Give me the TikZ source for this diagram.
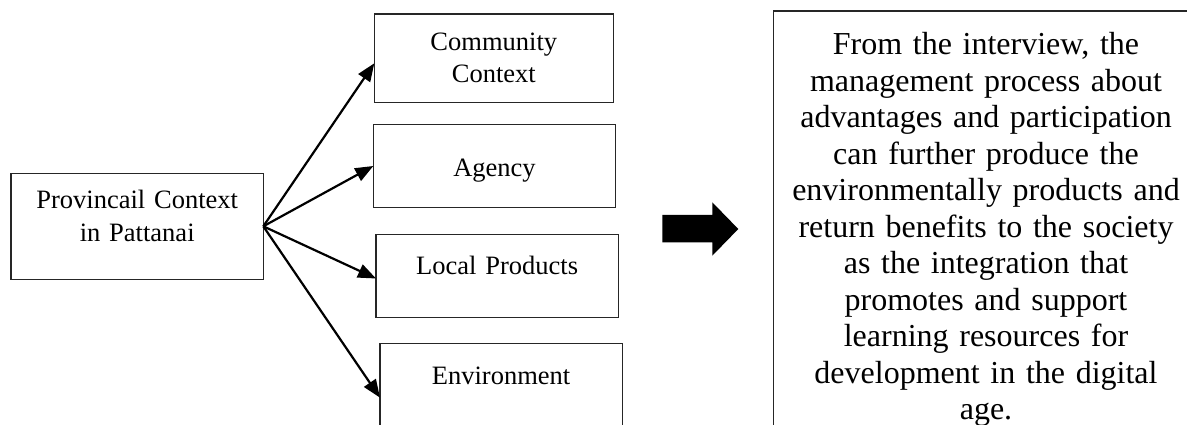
\documentclass[tikz,border=0pt]{standalone}
\usepackage{fontspec}
\setmainfont{Liberation Serif}
\usetikzlibrary{arrows.meta,calc}
\begin{document}
\begin{tikzpicture}[x=1pt,y=-1pt,
  box/.style={draw=black!85,line width=1.3pt,rectangle,inner sep=0pt,outer sep=0pt},
  lbl/.style={anchor=base,inner sep=0pt,text width=250pt,align=center,
    font=\fontsize{26.5}{32.6}\selectfont},
  conn/.style={line width=2.2pt,-{Triangle[length=18pt,width=14pt]}}]
\useasboundingbox (0,0) rectangle (1187,425);
% boxes
\node[box,minimum width=252.3pt,minimum height=106pt] (prov) at (137.15,226.3) {};
\node[box,minimum width=239pt,minimum height=88.3pt] (comm) at (493.8,58.15) {};
\node[box,minimum width=242.4pt,minimum height=83.4pt] (agen) at (494.5,166) {};
\node[box,minimum width=242.5pt,minimum height=83.4pt] (locp) at (497.25,276) {};
\node[box,minimum width=242.7pt,minimum height=83.4pt] (envi) at (501.35,385) {};
% labels
\node[lbl] (provt) at (137.2,208.5) {Provincail Context\\in Pattanai};
\node[lbl] (commt) at (493.8,50.2) {Community\\Context};
\node[lbl] (agent) at (494.5,176.4) {Agency};
\node[lbl] (locpt) at (497.2,274.4) {Local Products};
\node[lbl] (envit) at (501.1,384.3) {Environment};
% connectors
\draw[conn] (prov.east) -- ($(comm.north west)!0.558!(comm.south west)$);
\draw[conn] (prov.east) -- (agen.west);
\draw[conn] (prov.east) -- ($(locp.north west)!0.53!(locp.south west)$);
\draw[conn] (prov.east) -- ($(envi.north west)!0.652!(envi.south west)$);
% big arrow
\fill[black] (662.3,215) -- (712.3,215) -- (712.3,202.3) -- (738.3,229)
  -- (712.3,255.7) -- (712.3,242.3) -- (662.3,242.3) -- cycle;
% right box (cut off at right and bottom)
\coordinate (rbl) at (773.7,430);
\coordinate (rtl) at (773.7,11);
\coordinate (rtr) at (1192,11);
\draw[black!85,line width=1.3pt] (rbl) -- (rtl) -- (rtr);
\node[anchor=base,inner sep=0pt,text width=400pt,align=center,
  font=\fontsize{32}{36.5}\selectfont] (res) at (986,55)
  {From the interview, the\\management process about\\advantages and participation\\can further produce the\\environmentally products and\\return benefits to the society\\as the integration that\\promotes and support\\learning resources for\\development in the digital\\age.};
\end{tikzpicture}
\end{document}
